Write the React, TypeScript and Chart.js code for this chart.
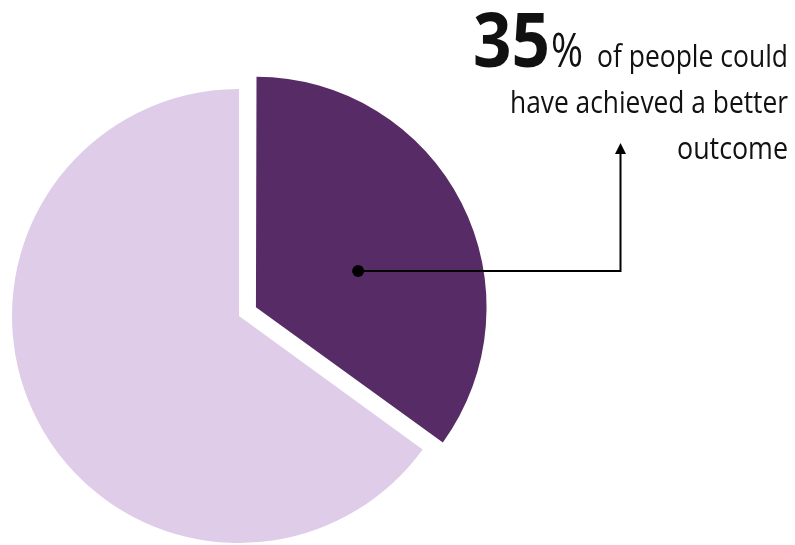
import React, { useEffect, useRef } from "react";
import { Chart, registerables } from "chart.js";

Chart.register(...registerables);

// ---- data ----
const categories = ["Could have achieved a better outcome", "Other outcome"];
const values = [35, 65];
const sliceColors = ["#572C66", "#DFCCE8"];
const sliceOffsets = [76, 0];
const headlineSuffix = "%";
const calloutLines = ["of people could", "have achieved a better", "outcome"];

const FONT = "'Open Sans', 'Noto Sans', sans-serif";

function drawFit(ctx: CanvasRenderingContext2D, text: string, left: number, right: number, baseline: number, font: string) {
  ctx.font = font;
  const w = ctx.measureText(text).width;
  const sx = (right - left) / w;
  ctx.save();
  ctx.translate(left, baseline);
  ctx.scale(sx, 1);
  ctx.textAlign = "left";
  ctx.textBaseline = "alphabetic";
  ctx.fillText(text, 0, 0);
  ctx.restore();
}

const calloutPlugin = {
  id: "callout",
  afterDraw(chart: any) {
    const ctx = chart.ctx as CanvasRenderingContext2D;
    const arc = chart.getDatasetMeta(0).data[0];
    const p = arc.getProps(["x", "y", "startAngle", "endAngle", "outerRadius"], true);
    const mid = (p.startAngle + p.endAngle) / 2;
    const shift = sliceOffsets[0] / 4;
    const cx = p.x + Math.cos(mid) * shift;
    const cy = p.y + Math.sin(mid) * shift;
    const a = mid + (7.4 * Math.PI) / 180;
    const r = p.outerRadius * 0.478;
    const dx = cx + Math.cos(a) * r;
    const dy = cy + Math.sin(a) * r;

    const elbowX = 620.5;
    const tipY = 143;

    ctx.save();
    ctx.strokeStyle = "#000";
    ctx.fillStyle = "#000";
    ctx.lineWidth = 2;
    ctx.beginPath();
    ctx.moveTo(dx, dy);
    ctx.lineTo(elbowX, dy);
    ctx.lineTo(elbowX, tipY + 8);
    ctx.stroke();
    ctx.beginPath();
    ctx.moveTo(elbowX, tipY);
    ctx.lineTo(elbowX - 5.5, tipY + 11);
    ctx.lineTo(elbowX + 5.5, tipY + 11);
    ctx.closePath();
    ctx.fill();
    ctx.beginPath();
    ctx.arc(dx, dy, 6, 0, Math.PI * 2);
    ctx.fill();

    // text
    ctx.fillStyle = "#111";
    drawFit(ctx, String(values[0]), 473, 550, 67, `bold 76px ${FONT}`);
    drawFit(ctx, headlineSuffix, 551, 583, 67, `48px ${FONT}`);
    drawFit(ctx, calloutLines[0], 597, 788, 67, `31px ${FONT}`);
    drawFit(ctx, calloutLines[1], 510, 788, 113, `31px ${FONT}`);
    drawFit(ctx, calloutLines[2], 677, 788, 159, `31px ${FONT}`);
    ctx.restore();
  },
};

export default function App() {
  const ref = useRef<HTMLCanvasElement>(null);
  useEffect(() => {
    if (!ref.current) return;
    const chart = new Chart(ref.current, {
      type: "pie",
      data: {
        labels: categories,
        datasets: [
          {
            data: values,
            backgroundColor: sliceColors,
            offset: sliceOffsets,
            borderWidth: 0,
          },
        ],
      },
      options: {
        responsive: false,
        animation: false,
        radius: 227,
        layout: { padding: { left: 0, top: 87, right: 317, bottom: 0 } },
        plugins: {
          legend: { display: false },
          tooltip: { enabled: false },
        },
      } as any,
      plugins: [calloutPlugin],
    });
    return () => chart.destroy();
  }, []);
  return (
    <div style={{ position: "fixed", left: 0, top: 0, width: 795, height: 545, overflow: "hidden", background: "#fff" }}>
      <canvas ref={ref} width={795} height={545} style={{ display: "block" }} />
    </div>
  );
}
